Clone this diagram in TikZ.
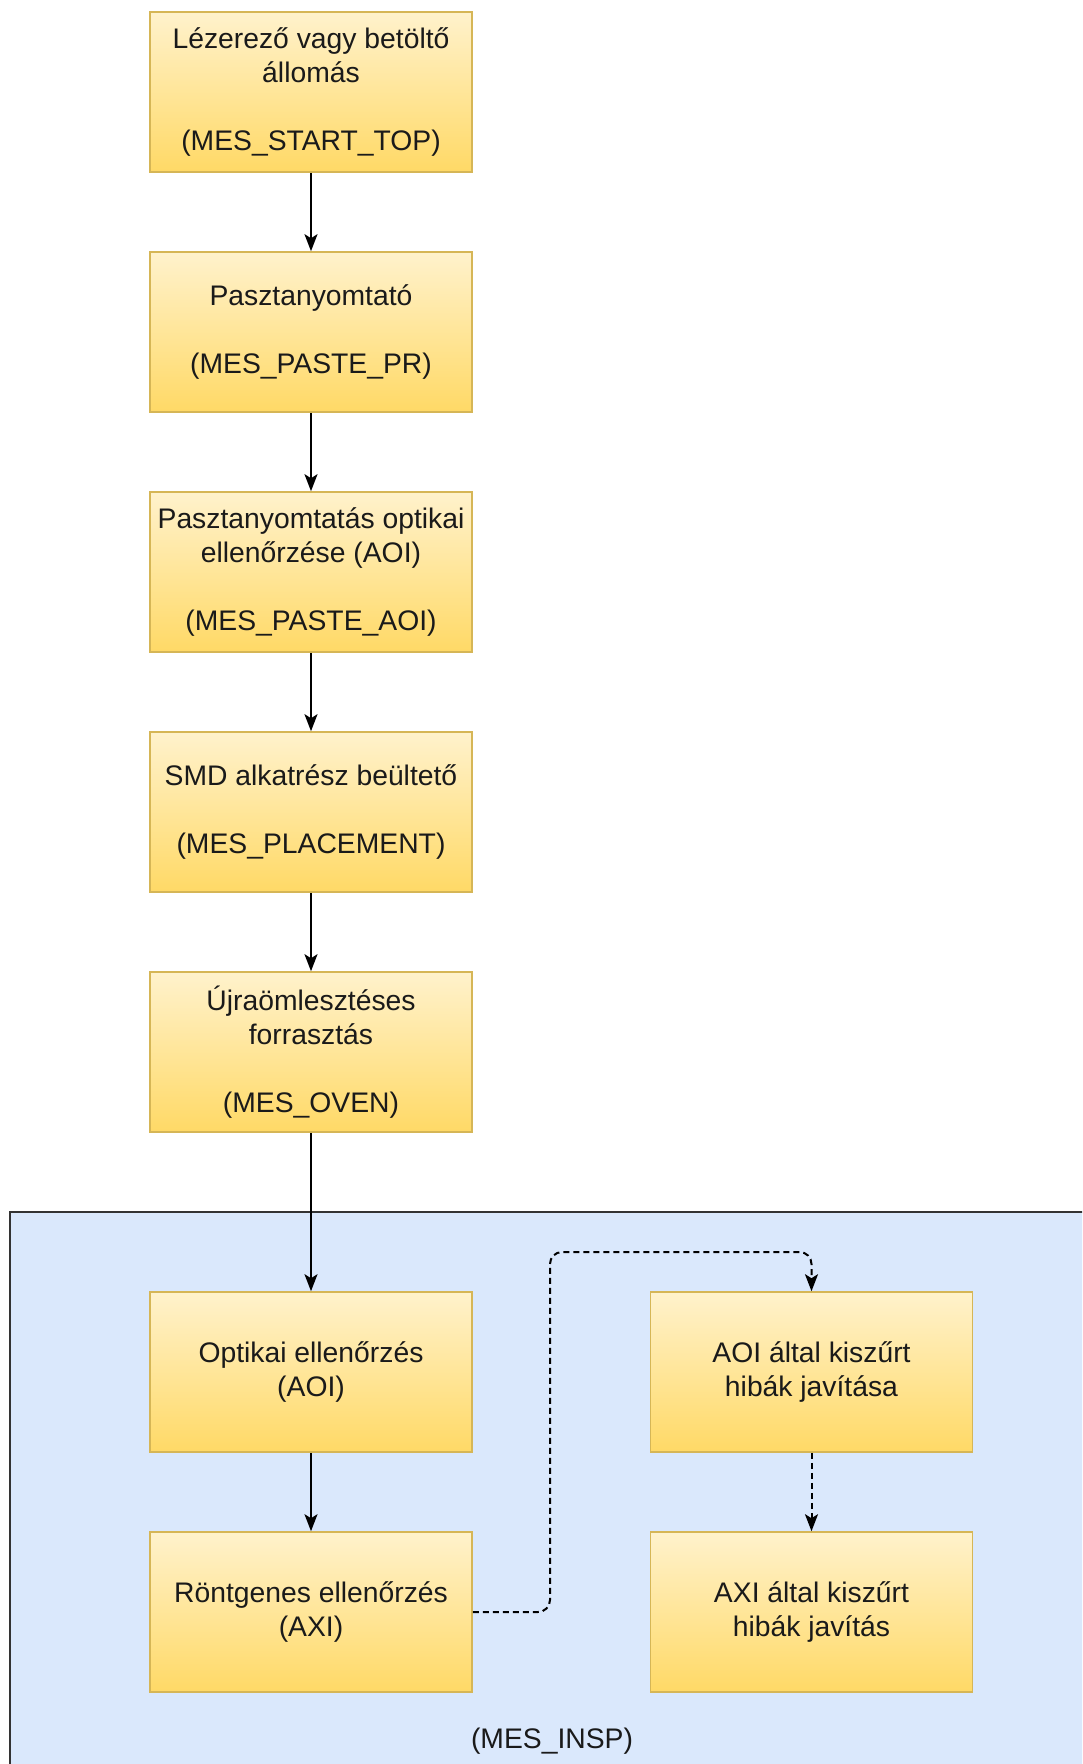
\documentclass[tikz,border=0pt]{standalone}
\usepackage{fontspec}
\setmainfont{Liberation Sans}
\usetikzlibrary{arrows.meta}
\definecolor{boxline}{HTML}{D6B656}
\definecolor{boxtop}{HTML}{FFF2CC}
\definecolor{boxbot}{HTML}{FFD966}
\definecolor{grpfill}{HTML}{DAE8FC}
\definecolor{txt}{HTML}{1A1A1A}
\tikzset{
  stepbox/.style={draw=boxline, line width=1.6pt, top color=boxtop, bottom color=boxbot,
    minimum width=322pt, minimum height=160pt, inner sep=0pt, align=center,
    text=txt, font=\fontsize{28.3}{34}\selectfont},
  flow/.style={line width=2pt, -{Stealth[length=17pt, width=13pt, inset=4pt]}},
  dflow/.style={flow, dash pattern=on 6pt off 4pt, rounded corners=12pt},
}
\begin{document}
\begin{tikzpicture}[x=1pt, y=-1pt]
\useasboundingbox (0,0) rectangle (1082,1764);
% inspection group
\begin{scope}
  \clip (0,0) rectangle (1082,1764);
  \draw[fill=grpfill, line width=2pt, draw=black!80] (10,1212) rectangle (1100,1800);
\end{scope}
\node[font=\fontsize{28.3}{34}\selectfont, text=txt] (insp) at (552,1741) {(MES\_INSP)};

% process chain
\node[stepbox] (top) at (311,92) {Lézerező vagy betöltő\\állomás\\[34pt](MES\_START\_TOP)};
\node[stepbox] (paste) at (311,332) {Pasztanyomtató\\[34pt](MES\_PASTE\_PR)};
\node[stepbox] (pasteaoi) at (311,572) {Pasztanyomtatás optikai\\ellenőrzése (AOI)\\[34pt](MES\_PASTE\_AOI)};
\node[stepbox] (place) at (311,812) {SMD alkatrész beültető\\[34pt](MES\_PLACEMENT)};
\node[stepbox] (oven) at (311,1052) {Újraömlesztéses\\forrasztás\\[34pt](MES\_OVEN)};
\node[stepbox] (aoi) at (311,1372) {Optikai ellenőrzés\\(AOI)};
\node[stepbox] (axi) at (311,1612) {Röntgenes ellenőrzés\\(AXI)};
\node[stepbox] (aoifix) at (811.5,1372) {AOI által kiszűrt\\hibák javítása};
\node[stepbox] (axifix) at (811.5,1612) {AXI által kiszűrt\\hibák javítás};

\draw[flow] (top) -- (paste);
\draw[flow] (paste) -- (pasteaoi);
\draw[flow] (pasteaoi) -- (place);
\draw[flow] (place) -- (oven);
\draw[flow] (oven) -- (aoi);
\draw[flow] (aoi) -- (axi);

\coordinate (bend) at (550,1252);
\draw[dflow] (axi.east) -| (bend) -| (aoifix.north);
\draw[dflow] (aoifix) -- (axifix);
\end{tikzpicture}
\end{document}
